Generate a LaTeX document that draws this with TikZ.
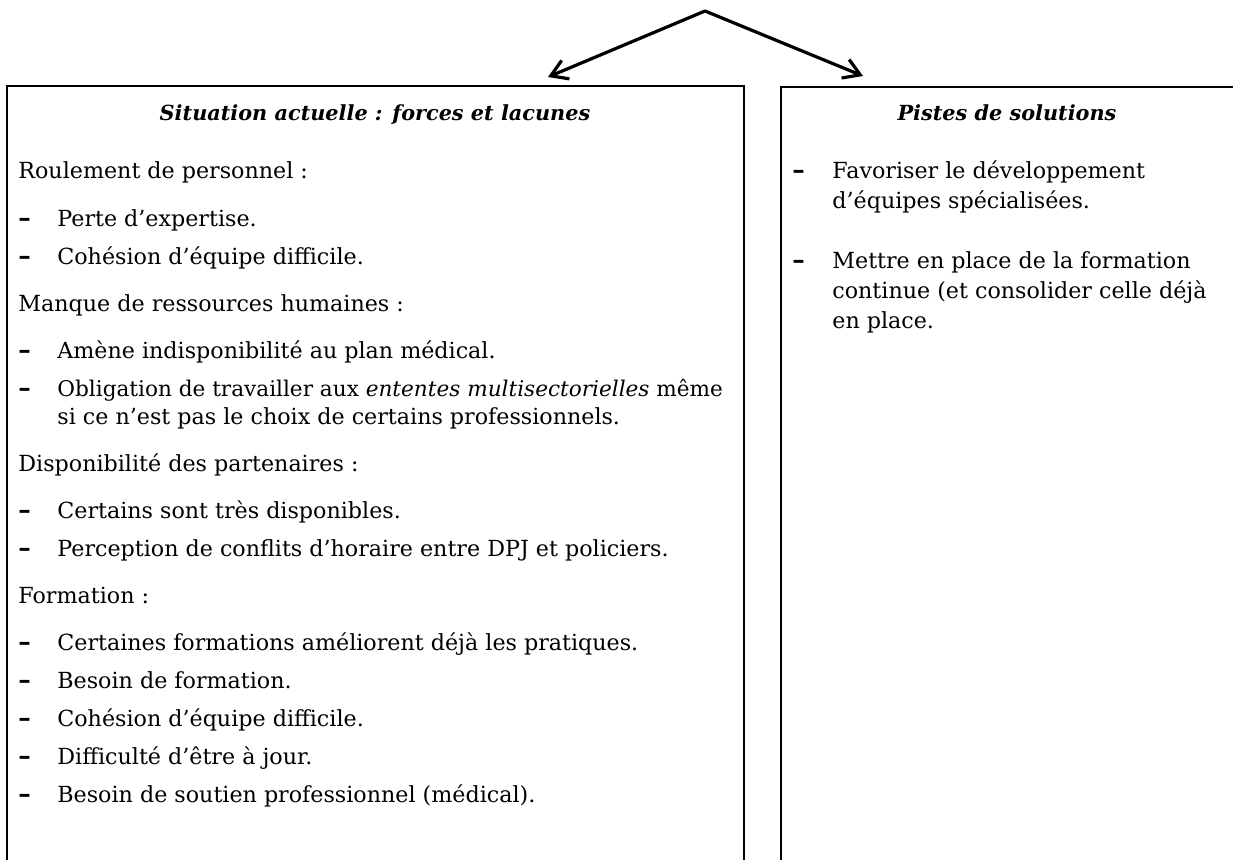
\documentclass[tikz,border=0pt]{standalone}
\usepackage{fontspec}
\setmainfont{DejaVu Serif}
\usepackage{tikz}
\usetikzlibrary{arrows.meta, positioning}

\begin{document}
\begin{tikzpicture}[
    x=0.5pt, y=-0.5pt,
    cadre/.style={draw, line width=0.9pt},
    texte/.style={font=\fontsize{11.1}{15}\selectfont, inner sep=0pt, anchor=base west},
    texteserre/.style={texte, font=\fontsize{10.8}{15}\selectfont},
    titre/.style={texte, font=\fontsize{10.4}{15}\selectfont\bfseries\itshape, anchor=base},
    tiret/.style={texte, font=\fontsize{12.5}{15}\selectfont\bfseries},
    fleche/.style={-{Straight Barb[length=8pt, width=10pt, line width=1.6pt]}, line width=1.6pt, line cap=round},
]
  \useasboundingbox (0,0) rectangle (1233,859);

  % Boxes (open at the bottom of the page)
  \draw[cadre] (7,880) rectangle (744,86);
  \draw[cadre] (781,880) rectangle (1240,87);

  % Arrows from the top
  \coordinate (sommet) at (705,11);
  \coordinate (pointeG) at (548,77);
  \coordinate (pointeD) at (863,76);
  \draw[fleche] (sommet) -- (pointeG);
  \draw[fleche] (sommet) -- (pointeD);

  % Left box: situation actuelle
  \node[titre] (titreG) at (375,120) {Situation actuelle : forces et lacunes};

  \node[texte] (roulement) at (18,178) {Roulement de personnel :};
  \node[tiret] (t1) at (18,226) {–};
  \node[texte] (perte) at (57,226) {Perte d’expertise.};
  \node[tiret] (t2) at (18,264) {–};
  \node[texte] (cohesionA) at (57,264) {Cohésion d’équipe difficile.};

  \node[texte] (manque) at (18,311) {Manque de ressources humaines :};
  \node[tiret] (t3) at (18,358) {–};
  \node[texte] (amene) at (57,358) {Amène indisponibilité au plan médical.};
  \node[tiret] (t4) at (18,396) {–};
  \node[texteserre] (obligA) at (57,396) {Obligation de travailler aux \textit{ententes multisectorielles} même};
  \node[texte] (obligB) at (57,424) {si ce n’est pas le choix de certains professionnels.};

  \node[texte] (dispo) at (18,471) {Disponibilité des partenaires :};
  \node[tiret] (t5) at (18,518) {–};
  \node[texte] (certains) at (57,518) {Certains sont très disponibles.};
  \node[tiret] (t6) at (18,556) {–};
  \node[texte] (perception) at (57,556) {Perception de conflits d’horaire entre DPJ et policiers.};

  \node[texte] (formation) at (18,603) {Formation :};
  \node[tiret] (t7) at (18,650) {–};
  \node[texte] (ameliorent) at (57,650) {Certaines formations améliorent déjà les pratiques.};
  \node[tiret] (t8) at (18,688) {–};
  \node[texte] (besoinA) at (57,688) {Besoin de formation.};
  \node[tiret] (t9) at (18,726) {–};
  \node[texte] (cohesionB) at (57,726) {Cohésion d’équipe difficile.};
  \node[tiret] (t10) at (18,764) {–};
  \node[texte] (ajour) at (57,764) {Difficulté d’être à jour.};
  \node[tiret] (t11) at (18,802) {–};
  \node[texte] (soutien) at (57,802) {Besoin de soutien professionnel (médical).};

  % Right box: pistes de solutions
  \node[titre] (titreD) at (1007,120) {Pistes de solutions};

  \node[tiret] (t12) at (792,178) {–};
  \node[texte] (favoriserA) at (832,178) {Favoriser le développement};
  \node[texte] (favoriserB) at (832,208) {d’équipes spécialisées.};
  \node[tiret] (t13) at (792,268) {–};
  \node[texte] (mettreA) at (832,268) {Mettre en place de la formation};
  \node[texte] (mettreB) at (832,298) {continue (et consolider celle déjà};
  \node[texte] (mettreC) at (832,328) {en place.};
\end{tikzpicture}
\end{document}
